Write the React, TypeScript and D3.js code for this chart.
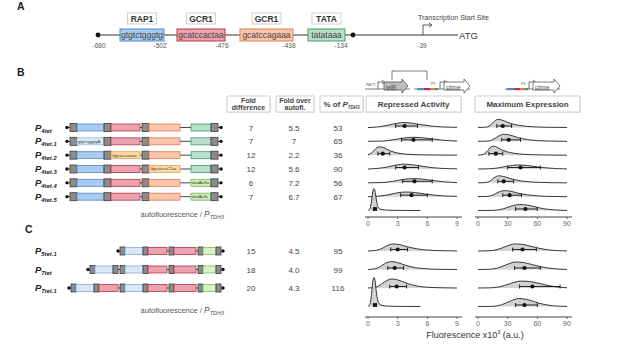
import React from "react";
import * as d3 from "d3";

const W = 617;
const H = 349;
const FONT = "Liberation Sans, Arial, sans-serif";

// ---- panel A: promoter map
const siteNames = ["RAP1", "GCR1", "GCR1", "TATA"];
const siteSeqs = ["gtgtctgggtg", "gcatccactaa", "gcatccagaaa", "tatataaa"];
const siteKinds = ["rap1", "gcr1", "gcr1b", "tata"];
const mapPositions = ["-680", "-502", "-476", "-438", "-134", "-39"];

// ---- panel B: table values
const namesB = ["4tet", "4tet.1", "4tet.2", "4tet.3", "4tet.4", "4tet.5"];
const foldDiffB = ["7", "7", "12", "12", "6", "7"];
const foldAutoB = ["5.5", "7", "2.2", "5.6", "7.2", "6.7"];
const pctB = ["53", "65", "36", "90", "56", "67"];

// ---- panel C: table values
const namesC = ["5tet.1", "7tet", "7tet.1"];
const foldDiffC = ["15", "18", "20"];
const foldAutoC = ["4.5", "4.0", "4.3"];
const pctC = ["95", "99", "116"];

// promoter architectures (element kinds, left to right)
const archB = [
  ["dot", "l3", "op", "rap1", "op", "gcr1", "l2", "op", "gcr1b", "l11", "tata", "op", "l3", "dot"],
  ["dot", "l3", "op", "rap1m:gtgtctgggtgA", "op", "gcr1", "l2", "op", "gcr1b", "l11", "tata", "op", "l3", "dot"],
  ["dot", "l3", "op", "rap1", "op", "gcr1m:Ggcatccactaa", "l2", "op", "gcr1b", "l11", "tata", "op", "l3", "dot"],
  ["dot", "l3", "op", "rap1", "op", "gcr1", "l2", "op", "gcr1bm:GgcatccaCTaa", "l11", "tata", "op", "l3", "dot"],
  ["dot", "l3", "op", "rap1", "op", "gcr1", "l2", "op", "gcr1b", "l11", "tatam:tataAaGa", "op", "l3", "dot"],
  ["dot", "l3", "op", "rap1", "op", "gcr1", "l2", "op", "gcr1b", "l11", "tatam:tataAaTa", "op", "l3", "dot"],
];
const archC = [
  ["dot", "l2", "opC", "rap1C", "opC", "gcr1C", "l2", "opC", "gcr1C2", "l2", "opC", "tataC", "opC", "l2", "dot"],
  ["dot", "l2", "opC", "rap1C", "opC", "l2", "opC", "rap1C", "opC", "gcr1C", "l2", "opC", "gcr1C2", "l2", "opC", "tataC", "opC", "l2", "dot"],
  ["dot", "l2", "opC", "rap1C", "opC", "gcr1C", "l2", "opC", "rap1C", "opC", "gcr1C", "l2", "opC", "gcr1C2", "l2", "opC", "tataC", "opC", "l2", "dot"],
];

// ---- ridge densities [fluorescence x10^3, relative density]
const repB: [number, number][][] = [
  [[0, 0], [1, 0.2], [2, 0.75], [3, 1.45], [3.6, 1.65], [4.5, 1.4], [5.5, 0.9], [6.5, 0.45], [7.5, 0.2], [9, 0.05]],
  [[0, 0], [1.5, 0.1], [2.5, 0.5], [3.5, 1.05], [4.6, 1.35], [5.5, 1.2], [6.5, 0.8], [7.5, 0.4], [9, 0.1]],
  [[0, 0.1], [0.4, 0.8], [0.8, 2.2], [1.2, 2.8], [1.6, 2.5], [2.2, 1.5], [3, 0.7], [4, 0.3], [5.5, 0.1], [9, 0]],
  [[0, 0], [1, 0.2], [2, 0.7], [3, 1.4], [3.6, 1.6], [4.5, 1.4], [5.5, 0.9], [6.5, 0.45], [7.5, 0.2], [9, 0.05]],
  [[0, 0], [1.5, 0.1], [2.5, 0.5], [3.5, 1.1], [4.6, 1.4], [5.5, 1.25], [6.5, 0.8], [7.5, 0.4], [9, 0.1]],
  [[0, 0], [1, 0.15], [2, 0.6], [3, 1.3], [3.8, 1.55], [4.8, 1.35], [5.8, 0.85], [7, 0.4], [9, 0.1]],
  [[0, 0], [0.2, 0.6], [0.35, 3], [0.5, 6.5], [0.6, 7.3], [0.7, 6.6], [0.85, 3.5], [1, 1.4], [1.3, 0.4], [2, 0.1], [3, 0.03], [5.3, 0]],
];
const maxB: [number, number][][] = [
  [[0, 0], [8, 0.1], [12, 0.6], [16, 1.9], [20, 2.7], [25, 2.4], [30, 1.7], [36, 1.1], [45, 0.55], [55, 0.25], [70, 0.08], [90, 0]],
  [[0, 0], [10, 0.1], [15, 0.6], [20, 1.6], [26, 2.35], [32, 2.1], [40, 1.3], [50, 0.6], [60, 0.25], [75, 0.08], [90, 0]],
  [[0, 0], [5, 0.2], [9, 1.2], [13, 2.7], [16, 3], [20, 2.5], [25, 1.6], [32, 0.9], [42, 0.4], [55, 0.15], [70, 0.05], [90, 0]],
  [[0, 0], [10, 0.05], [20, 0.35], [30, 0.95], [40, 1.35], [50, 1.15], [60, 0.7], [70, 0.35], [80, 0.12], [90, 0.03]],
  [[0, 0], [8, 0.1], [12, 0.55], [16, 1.6], [21, 2.35], [26, 2.1], [32, 1.5], [40, 0.85], [50, 0.4], [62, 0.15], [75, 0.05], [90, 0]],
  [[0, 0], [10, 0.1], [15, 0.5], [20, 1.4], [27, 2], [33, 1.8], [40, 1.2], [50, 0.6], [60, 0.25], [75, 0.07], [90, 0]],
  [[0, 0], [15, 0.05], [25, 0.5], [33, 1.4], [42, 2], [50, 1.8], [58, 1.2], [66, 0.6], [75, 0.25], [85, 0.06], [90, 0.02]],
];
const repC: [number, number][][] = [
  [[0, 0], [0.8, 0.2], [1.5, 1], [2, 1.9], [2.6, 2.35], [3.2, 2.1], [4, 1.4], [5, 0.7], [6, 0.3], [7.5, 0.1], [9, 0.02]],
  [[0, 0], [0.8, 0.3], [1.4, 1.3], [1.9, 2.3], [2.4, 2.65], [3, 2.3], [3.8, 1.4], [4.8, 0.6], [6, 0.2], [7.5, 0.05], [9, 0]],
  [[0, 0], [0.8, 0.3], [1.4, 1.4], [1.9, 2.5], [2.5, 3], [3.1, 2.6], [3.9, 1.6], [4.9, 0.7], [6, 0.25], [7.5, 0.07], [9, 0]],
  [[0, 0], [0.2, 0.8], [0.35, 4], [0.5, 8.7], [0.6, 9.7], [0.7, 8.8], [0.85, 4.7], [1, 1.9], [1.3, 0.5], [2, 0.12], [3, 0.04], [5.3, 0]],
];
const maxC: [number, number][][] = [
  [[0, 0], [10, 0.05], [20, 0.5], [28, 1.5], [37, 2.35], [45, 2.2], [53, 1.6], [62, 0.9], [72, 0.35], [82, 0.1], [90, 0.02]],
  [[0, 0], [10, 0.05], [20, 0.5], [28, 1.5], [38, 2.5], [46, 2.3], [54, 1.7], [63, 0.95], [73, 0.4], [83, 0.1], [90, 0.02]],
  [[0, 0], [12, 0.05], [22, 0.4], [32, 1.4], [43, 2.3], [52, 2.15], [61, 1.6], [70, 0.9], [80, 0.35], [90, 0.08]],
  [[0, 0], [15, 0.05], [24, 0.6], [32, 1.7], [41, 2.65], [49, 2.4], [57, 1.6], [66, 0.75], [75, 0.28], [85, 0.07], [90, 0.02]],
];

// mean, low, high
const repStatsB = [[3.7, 2.8, 5.0], [4.6, 3.4, 6.5], [1.5, 1.0, 2.2], [3.7, 2.8, 5.1], [4.7, 3.5, 6.5], [4.4, 3.3, 6.0], [0.7, 0.55, 0.85]];
const maxStatsB = [[25, 19, 34], [31, 24, 43], [18, 11, 25], [43, 30, 63], [26, 20, 36], [32, 25, 44], [48, 38, 60]];
const repStatsC = [[3.0, 2.3, 4.0], [2.7, 2.0, 3.6], [2.9, 2.2, 3.9], [0.7, 0.55, 0.85]];
const maxStatsC = [[45, 35, 59], [47, 37, 63], [55, 42, 83], [47, 38, 60]];

const repTicks = [0, 3, 6, 9];
const maxTicks = [0, 30, 60, 90];

// element styles
const kinds: Record<string, { w: number; fill?: string; stroke?: string; h?: number }> = {
  dot: { w: 0 },
  l1: { w: 1 }, l2: { w: 2 }, l3: { w: 3 }, l11: { w: 11 },
  op: { w: 7, h: 8, fill: "#8c8c8c", stroke: "#3a3a3a" },
  rap1: { w: 27, h: 7, fill: "#a9cbed", stroke: "#4f8cc9" },
  gcr1: { w: 29, h: 7, fill: "#eca3ad", stroke: "#b3364a" },
  gcr1b: { w: 31, h: 7, fill: "#fbc5ab", stroke: "#e07a55" },
  tata: { w: 20, h: 7, fill: "#b9dfca", stroke: "#3f9b6d" },
  rap1m: { w: 27, h: 7, fill: "#dce9f7", stroke: "#95b8de" },
  gcr1m: { w: 29, h: 7, fill: "#fcd8a4", stroke: "#e5a24f" },
  gcr1bm: { w: 31, h: 7, fill: "#fcd8a4", stroke: "#e5a24f" },
  tatam: { w: 20, h: 7, fill: "#cdebb6", stroke: "#77b95a" },
  opC: { w: 5, h: 8, fill: "#8c8c8c", stroke: "#3a3a3a" },
  rap1C: { w: 18, h: 7, fill: "#d8e7f7", stroke: "#86acd8" },
  gcr1C: { w: 19, h: 7, fill: "#eca3ad", stroke: "#b3364a" },
  gcr1C2: { w: 22, h: 7, fill: "#eca3ad", stroke: "#b3364a" },
  tataC: { w: 13, h: 7, fill: "#daf1c6", stroke: "#7cbf5a" },
};

const xRep = d3.scaleLinear().domain([0, 9]).range([368, 457]);
const xMax = d3.scaleLinear().domain([0, 90]).range([478, 567]);
const hDen = d3.scaleLinear().domain([0, 10]).range([0, 30]);
const rowB = d3.scalePoint<string>().domain([...namesB, "ctrl"]).range([127.5, 210.5]);
const rowC = d3.scalePoint<string>().domain([...namesC, "ctrl"]).range([251, 306.5]);

function Diagram({ tokens, y, endX }: { tokens: string[]; y: number; endX: number }) {
  const parsed = tokens.map((t) => {
    const [k, label] = t.split(":");
    return { k, label, ...kinds[k] };
  });
  const total = d3.sum(parsed, (d) => d.w);
  const starts = d3.cumsum(parsed, (d) => d.w).map((c, i) => endX - total + c - parsed[i].w);
  const x0 = endX - total;
  return (
    <g>
      <line x1={x0} x2={endX} y1={y} y2={y} stroke="#333" strokeWidth={0.9} />
      <circle cx={x0} cy={y} r={1.7} fill="#111" />
      <circle cx={endX} cy={y} r={1.7} fill="#111" />
      {parsed.map((d, i) =>
        d.fill ? (
          <g key={i}>
            <rect x={starts[i]} y={y - d.h! / 2} width={d.w} height={d.h} fill={d.fill} stroke={d.stroke} strokeWidth={0.8} />
            {d.label && (
              <text x={starts[i] + 1} y={y + 1.4} fontSize={4} fill="#333" fontFamily={FONT}>
                {d.label}
              </text>
            )}
          </g>
        ) : null
      )}
    </g>
  );
}

function Ridge({ pts, x, base, stats }: { pts: [number, number][]; x: d3.ScaleLinear<number, number>; base: number; stats: number[] }) {
  const area = d3.area<[number, number]>().x((d) => x(d[0])).y0(base).y1((d) => base - hDen(d[1])).curve(d3.curveMonotoneX);
  const line = d3.line<[number, number]>().x((d) => x(d[0])).y((d) => base - hDen(d[1])).curve(d3.curveMonotoneX);
  const ey = base - 1.5;
  return (
    <g>
      <path d={area(pts) || ""} fill="#d2d2d2" />
      <path d={line(pts) || ""} fill="none" stroke="#222" strokeWidth={0.9} />
      <line x1={x(stats[1])} x2={x(stats[2])} y1={ey} y2={ey} stroke="#111" strokeWidth={0.9} />
      <line x1={x(stats[1])} x2={x(stats[1])} y1={ey - 2} y2={ey + 2} stroke="#111" strokeWidth={0.9} />
      <line x1={x(stats[2])} x2={x(stats[2])} y1={ey - 2} y2={ey + 2} stroke="#111" strokeWidth={0.9} />
      <circle cx={x(stats[0])} cy={ey} r={2.1} fill="#111" />
    </g>
  );
}

function Axis({ x, ticks, y }: { x: d3.ScaleLinear<number, number>; ticks: number[]; y: number }) {
  const [r0, r1] = x.range();
  return (
    <g>
      <line x1={r0 - 3} x2={r1 + 5} y1={y} y2={y} stroke="#444" strokeWidth={1} />
      {ticks.map((t) => (
        <g key={t}>
          <line x1={x(t)} x2={x(t)} y1={y} y2={y + 2} stroke="#444" strokeWidth={0.8} />
          <text x={x(t)} y={y + 9} fontSize={7} textAnchor="middle" fill="#666" fontFamily={FONT}>
            {t}
          </text>
        </g>
      ))}
    </g>
  );
}

function PLabel({ x, y, sub, size = 9.5 }: { x: number; y: number; sub: string; size?: number }) {
  return (
    <text x={x} y={y + 3} fontFamily={FONT} fontWeight="bold" fontStyle="italic" fontSize={size} fill="#222">
      P<tspan fontSize={size * 0.62} dy={2}>{sub}</tspan>
    </text>
  );
}

function Section({ names, fd, fa, pct, arch, row, rep, mx, repStats, maxStats, axisY, endX }: any) {
  return (
    <g>
      {names.map((n: string, i: number) => {
        const y = row(n);
        return (
          <g key={n}>
            <PLabel x={35} y={y} sub={n} />
            <Diagram tokens={arch[i]} y={y} endX={endX} />
            {[fd[i], fa[i], pct[i]].map((v: string, j: number) => (
              <text key={j} x={[251, 294, 338][j]} y={y + 3} fontSize={8} textAnchor="middle" fill="#444" fontFamily={FONT}>
                {v}
              </text>
            ))}
          </g>
        );
      })}
      <text x={224} y={row("ctrl") + 6} fontSize={7.5} textAnchor="end" fill="#555" fontFamily={FONT}>
        autofluorescence / <tspan fontStyle="italic" fontSize={8.5}>P</tspan>
        <tspan fontStyle="italic" fontSize={5.5} dy={2}>TDH3</tspan>
      </text>
      {[...names, "ctrl"].map((n: string, i: number) => (
        <Ridge key={"r" + n} pts={rep[i]} x={xRep} base={row(n)} stats={repStats[i]} />
      ))}
      {[...names, "ctrl"].map((n: string, i: number) => (
        <Ridge key={"m" + n} pts={mx[i]} x={xMax} base={row(n)} stats={maxStats[i]} />
      ))}
      <Axis x={xRep} ticks={repTicks} y={axisY} />
      <Axis x={xMax} ticks={maxTicks} y={axisY} />
    </g>
  );
}

function HeaderBox({ x, w, lines, y = 96, h = 16 }: { x: number; w: number; lines: React.ReactNode[]; y?: number; h?: number }) {
  return (
    <g>
      <rect x={x + 0.8} y={y + 0.8} width={w} height={h} fill="#e4e4e4" />
      <rect x={x} y={y} width={w} height={h} fill="#fff" stroke="#c4c4c4" strokeWidth={0.8} />
      {lines.map((l, i) => (
        <text key={i} x={x + w / 2} y={y + (lines.length === 1 ? 11 : 6.8 + i * 6.8)} fontSize={lines.length === 1 ? 8 : 7} fontWeight="bold" textAnchor="middle" fill="#444" fontFamily={FONT}>
          {l}
        </text>
      ))}
    </g>
  );
}

function GeneArrow({ x, w, y, fill, label }: { x: number; w: number; y: number; fill: string; label: string }) {
  const h = 10;
  const p = d3.path();
  p.moveTo(x, y - 3);
  p.lineTo(x + w - 6, y - 3);
  p.lineTo(x + w - 6, y - h / 2 - 1);
  p.lineTo(x + w, y + 1);
  p.lineTo(x + w - 6, y + h / 2 + 3);
  p.lineTo(x + w - 6, y + 5);
  p.lineTo(x, y + 5);
  p.closePath();
  return (
    <g>
      <path d={p.toString()} fill={fill} stroke="#444" strokeWidth={0.7} />
      <text x={x + 2} y={y + 3.5} fontSize={5.5} fill="#444" fontFamily={FONT} textDecoration="underline">
        {label}
      </text>
    </g>
  );
}

function ColorBar({ x, y }: { x: number; y: number }) {
  const cols = ["#4f8cc9", "#b3364a", "#e07a55", "#3f9b6d"];
  const widths = [7, 6, 5, 3];
  const starts = d3.cumsum(widths).map((c, i) => c - widths[i]);
  return (
    <g>
      {cols.map((c, i) => (
        <rect key={i} x={x + starts[i]} y={y - 1} width={widths[i]} height={2.2} fill={c} />
      ))}
    </g>
  );
}

function BentArrow({ x, y }: { x: number; y: number }) {
  return (
    <g>
      <path d={`M${x},${y} V${y - 7} H${x + 5}`} fill="none" stroke="#333" strokeWidth={0.7} />
      <path d={`M${x + 4},${y - 9} L${x + 6.5},${y - 7} L${x + 4},${y - 5}`} fill="none" stroke="#333" strokeWidth={0.7} />
    </g>
  );
}

export default function App() {
  // panel A layout
  const seqBoxes = [[120, 164], [177, 225], [240, 293], [308, 345]];
  const posX = [99, 160, 222, 289, 341, 422];
  const lineY = 35;
  return (
    <svg width={W} height={H} style={{ position: "absolute", left: 0, top: 0, background: "#fff" }} fontFamily={FONT}>
      <rect width={W} height={H} fill="#fff" />
      {/* panel letters */}
      <text x={17} y={10} fontSize={10.5} fontWeight="bold" fill="#222">A</text>
      <text x={17} y={76} fontSize={10.5} fontWeight="bold" fill="#222">B</text>
      <text x={25} y={233} fontSize={10.5} fontWeight="bold" fill="#222">C</text>

      {/* panel A */}
      <line x1={98} x2={458} y1={lineY} y2={lineY} stroke="#333" strokeWidth={1} />
      <circle cx={98} cy={lineY} r={2.4} fill="#111" />
      <circle cx={353} cy={lineY} r={2.4} fill="#111" />
      {siteKinds.map((k, i) => {
        const [a, b] = seqBoxes[i];
        const st = kinds[k];
        const cx = (a + b) / 2;
        return (
          <g key={i}>
            <rect x={a} y={lineY - 6} width={b - a} height={12} fill={st.fill} stroke={st.stroke} strokeWidth={1} />
            <text x={cx} y={lineY + 3} fontSize={8.5} textAnchor="middle" fill="#444">{siteSeqs[i]}</text>
            <rect x={cx - 14.5} y={13} width={29} height={11} fill="#fff" stroke="#c4c4c4" strokeWidth={0.8} />
            <text x={cx} y={22} fontSize={8.5} fontWeight="bold" textAnchor="middle" fill="#333">{siteNames[i]}</text>
          </g>
        );
      })}
      {mapPositions.map((p, i) => (
        <text key={p} x={posX[i]} y={48} fontSize={6.5} textAnchor="middle" fill="#555">{p}</text>
      ))}
      <path d={`M423,${lineY} V25 H431`} fill="none" stroke="#333" strokeWidth={0.8} />
      <path d="M429,22.8 L432,25 L429,27.2" fill="none" stroke="#333" strokeWidth={0.8} />
      <text x={418} y={20} fontSize={7} fill="#444">Transcription Start Site</text>
      <text x={459} y={38.5} fontSize={9.5} fill="#333">ATG</text>

      {/* table headers */}
      <HeaderBox x={227} w={43} lines={["Fold", "difference"]} />
      <HeaderBox x={276} w={38} lines={["Fold over", "autofl."]} />
      <HeaderBox
        x={320}
        w={43}
        lines={[
          <tspan key="p">
            % of <tspan fontStyle="italic">P</tspan>
            <tspan fontStyle="italic" fontSize={4.5} dy={1.5}>TDH3</tspan>
          </tspan>,
        ]}
      />
      <HeaderBox x={366} w={95} lines={["Repressed Activity"]} />
      <HeaderBox x={475} w={105} lines={["Maximum Expression"]} />

      {/* construct schematics */}
      <line x1={365} x2={410} y1={89} y2={89} stroke="#444" strokeWidth={0.7} />
      <text x={366} y={86} fontSize={3.6} fill="#444">P<tspan fontSize={2.8}>ACT1</tspan></text>
      <BentArrow x={378} y={89} />
      <GeneArrow x={384} w={24} y={85} fill="#bdbdbd" label="tetR" />
      <path d="M392,80 V71 H427 V80" fill="none" stroke="#444" strokeWidth={0.7} />
      <line x1={414} x2={470} y1={89} y2={89} stroke="#444" strokeWidth={0.7} />
      <ColorBar x={417} y={89} />
      <text x={431} y={85} fontSize={3.6} fill="#444">P<tspan fontSize={2.8}>X</tspan></text>
      <BentArrow x={440} y={89} />
      <GeneArrow x={444} w={26} y={85} fill="#fff" label="citrine" />
      <line x1={505} x2={560} y1={89} y2={89} stroke="#444" strokeWidth={0.7} />
      <ColorBar x={507} y={89} />
      <text x={521} y={85} fontSize={3.6} fill="#444">P<tspan fontSize={2.8}>X</tspan></text>
      <BentArrow x={529} y={89} />
      <GeneArrow x={533} w={27} y={85} fill="#fff" label="citrine" />

      <Section
        names={namesB} fd={foldDiffB} fa={foldAutoB} pct={pctB} arch={archB} row={rowB}
        rep={repB} mx={maxB} repStats={repStatsB} maxStats={maxStatsB} axisY={217} endX={221}
      />
      <Section
        names={namesC} fd={foldDiffC} fa={foldAutoC} pct={pctC} arch={archC} row={rowC}
        rep={repC} mx={maxC} repStats={repStatsC} maxStats={maxStatsC} axisY={317} endX={223}
      />

      <text x={475} y={338} fontSize={9} textAnchor="middle" fill="#333">
        Fluorescence x10<tspan fontSize={5.5} dy={-4}>3</tspan><tspan dy={4}> (a.u.)</tspan>
      </text>
    </svg>
  );
}
